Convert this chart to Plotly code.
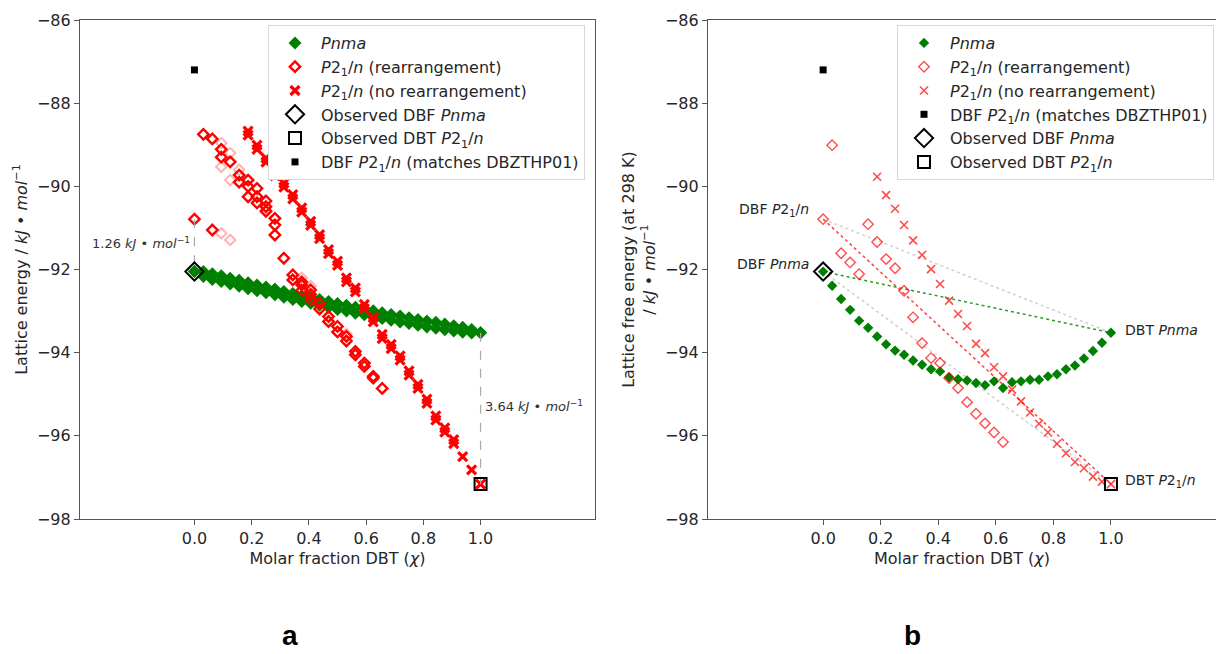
import plotly.graph_objects as go

# Molar fraction of DBT in the 32-molecule cells
chi = [0.0, 0.03125, 0.0625, 0.09375, 0.125, 0.15625, 0.1875, 0.21875, 0.25,
       0.28125, 0.3125, 0.34375, 0.375, 0.40625, 0.4375, 0.46875, 0.5, 0.53125,
       0.5625, 0.59375, 0.625, 0.65625, 0.6875, 0.71875, 0.75, 0.78125, 0.8125,
       0.84375, 0.875, 0.90625, 0.9375, 0.96875, 1.0]

# ---- (a) lattice energies, kJ/mol ----
pnma_lat_hi = [-92.05, -92.05, -92.10, -92.15, -92.21, -92.26, -92.32, -92.37, -92.42,
               -92.47, -92.53, -92.58, -92.63, -92.67, -92.72, -92.77, -92.82, -92.86,
               -92.91, -92.95, -92.99, -93.04, -93.08, -93.12, -93.16, -93.20, -93.24,
               -93.27, -93.31, -93.35, -93.39, -93.44, -93.52]
pnma_lat_lo = [-92.05, -92.17, -92.24, -92.29, -92.35, -92.40, -92.46, -92.51, -92.56,
               -92.61, -92.67, -92.72, -92.77, -92.81, -92.86, -92.91, -92.96, -93.00,
               -93.05, -93.09, -93.13, -93.18, -93.22, -93.26, -93.30, -93.34, -93.38,
               -93.41, -93.45, -93.48, -93.51, -93.53, -93.52]

rearr_lat_idx = [0, 1, 2, 2, 3, 3, 4, 5, 5, 6, 6, 6, 7, 7, 7, 8, 8, 8, 9, 9, 9, 10,
                 11, 11, 12, 12, 12, 13, 13, 13, 14, 14, 15, 15, 16, 16, 17, 17,
                 18, 18, 19, 19, 20, 20, 21]
rearr_lat = [-90.79, -88.75, -88.86, -91.05, -89.11, -89.30, -89.41, -89.73, -89.90,
             -89.85, -90.00, -90.25, -90.05, -90.25, -90.40, -90.35, -90.49, -90.60,
             -90.77, -90.93, -91.17, -91.73, -92.13, -92.25, -92.30, -92.37, -92.50,
             -92.49, -92.60, -92.72, -92.81, -92.95, -93.13, -93.25, -93.37, -93.50,
             -93.61, -93.72, -93.97, -94.05, -94.25, -94.33, -94.57, -94.61, -94.86]
rearr_lat_faint_idx = [3, 4, 3, 4, 5, 3, 4, 8, 12, 13, 17]
rearr_lat_faint = [-88.96, -89.20, -89.53, -89.85, -89.60, -91.13, -91.29, -90.57,
                   -92.20, -92.40, -93.55]

norearr_lat_idx = list(range(6, 30))
norearr_lat_hi = [-88.67, -89.01, -89.32, -89.64, -89.92, -90.20, -90.52, -90.84,
                  -91.16, -91.52, -91.80, -92.20, -92.44, -92.84, -93.16, -93.56,
                  -93.80, -94.08, -94.44, -94.76, -95.12, -95.52, -95.81, -96.09]
norearr_lat_lo = [-88.77, -89.11, -89.42, -89.74, -90.02, -90.30, -90.62, -90.94,
                  -91.26, -91.62, -91.90, -92.30, -92.54, -92.94, -93.26, -93.66,
                  -93.90, -94.18, -94.54, -94.86, -95.22, -95.62, -95.91, -96.19]
norearr_lat_tail_idx = [30, 31, 32]
norearr_lat_tail = [-96.50, -96.82, -97.16]

# ---- (b) lattice free energies at 298 K, kJ/mol ----
pnma_free = [-92.05, -92.39, -92.71, -92.97, -93.23, -93.40, -93.61, -93.80, -93.95,
             -94.05, -94.19, -94.29, -94.40, -94.45, -94.59, -94.64, -94.67, -94.73,
             -94.78, -94.69, -94.85, -94.71, -94.69, -94.65, -94.65, -94.57, -94.52,
             -94.40, -94.31, -94.14, -93.96, -93.76, -93.52]
rearr_free_idx = list(range(0, 21))
rearr_free = [-90.79, -89.01, -91.61, -91.83, -92.11, -90.91, -91.34, -91.75, -91.97,
              -92.51, -93.15, -93.77, -94.13, -94.25, -94.61, -94.85, -95.19, -95.47,
              -95.70, -95.92, -96.15]
norearr_free_idx = list(range(6, 33))
norearr_free = [-89.77, -90.21, -90.54, -90.93, -91.30, -91.65, -91.99, -92.35, -92.75,
                -93.07, -93.36, -93.79, -94.01, -94.35, -94.57, -94.89, -95.17, -95.44,
                -95.71, -95.92, -96.19, -96.42, -96.63, -96.78, -96.98, -97.10, -97.16]

# End-member structures
dbf_pnma = -92.05
dbf_p21n = -90.79
dbt_pnma = -93.52
dbt_p21n = -97.16
dbf_dbzthp01 = -87.20

P21N = "<i>P</i>2<sub>1</sub>/<i>n</i>"
PNMA = "<i>Pnma</i>"
UNIT = "<i>kJ</i> • <i>mol</i><sup>−1</sup>"

GREEN = "#008000"
RED = "#ff0000"
FONT = "DejaVu Sans"


def pick(idx):
    return [chi[i] for i in idx]


fig = go.Figure()

# ---------------- panel (a) ----------------
fig.add_trace(go.Scatter(
    x=chi + chi, y=pnma_lat_hi + pnma_lat_lo, mode="markers",
    marker=dict(symbol="diamond", size=10, color=GREEN, line=dict(width=0)),
    name=PNMA, legend="legend", legendgroup="a1", xaxis="x", yaxis="y"))
fig.add_trace(go.Scatter(
    x=pick(rearr_lat_faint_idx), y=rearr_lat_faint, mode="markers",
    marker=dict(symbol="diamond-open", size=8, color=RED, opacity=0.3, line=dict(width=2)),
    showlegend=False, xaxis="x", yaxis="y"))
fig.add_trace(go.Scatter(
    x=pick(rearr_lat_idx), y=rearr_lat, mode="markers",
    marker=dict(symbol="diamond-open", size=8, color=RED, line=dict(width=2.4)),
    name=P21N + " (rearrangement)", legend="legend", legendgroup="a2", xaxis="x", yaxis="y"))
fig.add_trace(go.Scatter(
    x=pick(norearr_lat_idx) + pick(norearr_lat_idx) + pick(norearr_lat_tail_idx),
    y=norearr_lat_hi + norearr_lat_lo + norearr_lat_tail, mode="markers",
    marker=dict(symbol="x-thin", size=9, color=RED, line=dict(width=3.2, color=RED)),
    name=P21N + " (no rearrangement)", legend="legend", legendgroup="a3",
    xaxis="x", yaxis="y"))

# energy gaps between polymorphs at the end members
fig.add_trace(go.Scatter(
    x=[0, 0], y=[dbf_p21n, dbf_pnma], mode="lines",
    line=dict(color="#aaaaaa", width=1.2, dash="dash"), showlegend=False,
    xaxis="x", yaxis="y"))
fig.add_trace(go.Scatter(
    x=[1, 1], y=[dbt_pnma, dbt_p21n], mode="lines",
    line=dict(color="#aaaaaa", width=1.2, dash="dash"), showlegend=False,
    xaxis="x", yaxis="y"))

fig.add_trace(go.Scatter(
    x=[0], y=[dbf_pnma], mode="markers",
    marker=dict(symbol="diamond-open", size=14, color="black", line=dict(width=2)),
    name="Observed DBF " + PNMA, legend="legend", legendgroup="a4", xaxis="x", yaxis="y"))
fig.add_trace(go.Scatter(
    x=[1], y=[dbt_p21n], mode="markers",
    marker=dict(symbol="square-open", size=12, color="black", line=dict(width=2)),
    name="Observed DBT " + P21N, legend="legend", legendgroup="a5", xaxis="x", yaxis="y"))
fig.add_trace(go.Scatter(
    x=[0], y=[dbf_dbzthp01], mode="markers",
    marker=dict(symbol="square", size=7, color="black"),
    name="DBF " + P21N + " (matches DBZTHP01)", legend="legend", legendgroup="a6",
    xaxis="x", yaxis="y"))

# ---------------- panel (b) ----------------
tie_lines = [
    ([0, 1], [dbf_p21n, dbt_pnma], "#d0d0d0"),
    ([0, 1], [dbf_pnma, dbt_p21n], "#d0d0d0"),
    ([0, 1], [dbf_pnma, dbt_pnma], "#2e9a2e"),
    ([0, 1], [dbf_p21n, dbt_p21n], "#ff4040"),
]
for xs, ys, col in tie_lines:
    fig.add_trace(go.Scatter(
        x=xs, y=ys, mode="lines", line=dict(color=col, width=1.5, dash="dot"),
        showlegend=False, xaxis="x2", yaxis="y2"))

fig.add_trace(go.Scatter(
    x=chi, y=pnma_free, mode="markers",
    marker=dict(symbol="diamond", size=8, color=GREEN, line=dict(width=0)),
    name=PNMA, legend="legend2", legendgroup="b1", xaxis="x2", yaxis="y2"))
fig.add_trace(go.Scatter(
    x=pick(rearr_free_idx), y=rearr_free, mode="markers",
    marker=dict(symbol="diamond-open", size=8, color=RED, opacity=0.7, line=dict(width=1.4)),
    name=P21N + " (rearrangement)", legend="legend2", legendgroup="b2",
    xaxis="x2", yaxis="y2"))
fig.add_trace(go.Scatter(
    x=pick(norearr_free_idx), y=norearr_free, mode="markers",
    marker=dict(symbol="x-thin", size=8, color=RED, opacity=0.7,
                line=dict(width=1.6, color=RED)),
    name=P21N + " (no rearrangement)", legend="legend2", legendgroup="b3",
    xaxis="x2", yaxis="y2"))
fig.add_trace(go.Scatter(
    x=[0], y=[dbf_dbzthp01], mode="markers",
    marker=dict(symbol="square", size=7, color="black"),
    name="DBF " + P21N + " (matches DBZTHP01)", legend="legend2", legendgroup="b4",
    xaxis="x2", yaxis="y2"))
fig.add_trace(go.Scatter(
    x=[0], y=[dbf_pnma], mode="markers",
    marker=dict(symbol="diamond-open", size=14, color="black", line=dict(width=2)),
    name="Observed DBF " + PNMA, legend="legend2", legendgroup="b5", xaxis="x2", yaxis="y2"))
fig.add_trace(go.Scatter(
    x=[1], y=[dbt_p21n], mode="markers",
    marker=dict(symbol="square-open", size=12, color="black", line=dict(width=2)),
    name="Observed DBT " + P21N, legend="legend2", legendgroup="b6", xaxis="x2", yaxis="y2"))

W, H = 1216, 654
AX = "#555555"
TXT = "#262626"


def xaxis(domain, rng, anchor):
    return dict(domain=domain, range=rng, anchor=anchor,
                tickvals=[0.0, 0.2, 0.4, 0.6, 0.8, 1.0], tickformat=".1f",
                ticks="outside", ticklen=5, tickwidth=1.2, tickcolor=AX,
                showline=True, linecolor=AX, linewidth=1.3, mirror=True,
                showgrid=False, zeroline=False,
                tickfont=dict(family=FONT, size=16, color=TXT),
                title=dict(text="Molar fraction DBT (<i>χ</i>)",
                           font=dict(family=FONT, size=16, color=TXT), standoff=5))


def yaxis(anchor, title, mirror):
    return dict(domain=[1 - 519 / H, 1 - 20 / H], range=[-98, -86], anchor=anchor,
                tickvals=[-98, -96, -94, -92, -90, -88, -86],
                ticks="outside", ticklen=5, tickwidth=1.2, tickcolor=AX,
                showline=True, linecolor=AX, linewidth=1.3, mirror=mirror,
                showgrid=False, zeroline=False,
                tickfont=dict(family=FONT, size=16, color=TXT),
                title=dict(text=title, font=dict(family=FONT, size=16, color=TXT),
                           standoff=5))


legend_style = dict(xanchor="left", yanchor="top", bgcolor="white",
                    bordercolor="#d8d8d8", borderwidth=1,
                    font=dict(family=FONT, size=16, color=TXT),
                    tracegroupgap=0, itemsizing="trace", itemwidth=42)

fig.update_layout(
    width=W, height=H, margin=dict(l=0, r=0, t=0, b=0, autoexpand=False),
    paper_bgcolor="white", plot_bgcolor="white",
    font=dict(family=FONT, color=TXT),
    xaxis=xaxis([80 / W, 595 / W], [-0.4, 1.4], "y"),
    yaxis=yaxis("x", "Lattice energy / " + UNIT, True),
    xaxis2=xaxis([708 / W, 1.0], [-0.4, 1.365], "y2"),
    yaxis2=yaxis("x2", "Lattice free energy (at 298 K)<br>/ " + UNIT, False),
    legend=dict(x=268 / W, y=1 - 25 / H, **legend_style),
    legend2=dict(x=897 / W, y=1 - 25 / H, **legend_style),
    showlegend=True,
)

ann_font = dict(family=FONT, size=13, color="#333333")
annotations = [
    dict(x=0, y=(dbf_p21n + dbf_pnma) / 2, xref="x", yref="y",
         text="%.2f " % (dbf_p21n - dbf_pnma) + UNIT, showarrow=False,
         xanchor="right", yanchor="middle", xshift=-2, yshift=2, font=ann_font),
    dict(x=1, y=(dbt_pnma + dbt_p21n) / 2, xref="x", yref="y",
         text="%.2f " % (dbt_pnma - dbt_p21n) + UNIT, showarrow=False,
         xanchor="left", yanchor="middle", xshift=2, yshift=2, font=ann_font),
    dict(x=0, y=dbf_p21n, xref="x2", yref="y2", text="DBF " + P21N, showarrow=False,
         xanchor="right", yanchor="bottom", xshift=-12, yshift=-2,
         font=dict(family=FONT, size=14, color=TXT)),
    dict(x=0, y=dbf_pnma, xref="x2", yref="y2", text="DBF " + PNMA, showarrow=False,
         xanchor="right", yanchor="bottom", xshift=-12, yshift=-2,
         font=dict(family=FONT, size=14, color=TXT)),
    dict(x=1, y=dbt_pnma, xref="x2", yref="y2", text="DBT " + PNMA, showarrow=False,
         xanchor="left", yanchor="middle", xshift=12, yshift=3,
         font=dict(family=FONT, size=14, color=TXT)),
    dict(x=1, y=dbt_p21n, xref="x2", yref="y2", text="DBT " + P21N, showarrow=False,
         xanchor="left", yanchor="middle", xshift=12, yshift=3,
         font=dict(family=FONT, size=14, color=TXT)),
    dict(x=290 / W, y=1 / H, xref="paper", yref="paper", text="<b>a</b>",
         showarrow=False, xanchor="center", yanchor="bottom",
         font=dict(family="Liberation Sans", size=28, color="black")),
    dict(x=912 / W, y=1 / H, xref="paper", yref="paper", text="<b>b</b>",
         showarrow=False, xanchor="center", yanchor="bottom",
         font=dict(family="Liberation Sans", size=28, color="black")),
]
fig.update_layout(annotations=annotations)

fig.write_html("out.html")
